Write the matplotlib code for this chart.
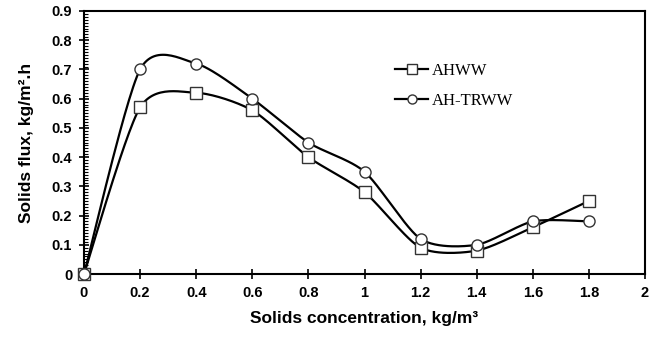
import numpy as np
import matplotlib
matplotlib.use("Agg")
import matplotlib.pyplot as plt
from matplotlib.ticker import MultipleLocator, FuncFormatter

conc = [0, 0.2, 0.4, 0.6, 0.8, 1.0, 1.2, 1.4, 1.6, 1.8]
ahww = [0, 0.57, 0.62, 0.56, 0.40, 0.28, 0.09, 0.08, 0.16, 0.25]
ahtrww = [0, 0.70, 0.72, 0.60, 0.45, 0.35, 0.12, 0.10, 0.18, 0.18]
x_ticks = [0, 0.2, 0.4, 0.6, 0.8, 1.0, 1.2, 1.4, 1.6, 1.8, 2.0]
y_ticks = [0, 0.1, 0.2, 0.3, 0.4, 0.5, 0.6, 0.7, 0.8, 0.9]


def smooth(x, y, n=30, t=0.38):
    # Excel-style smoothed line (cardinal spline through the points)
    x = np.asarray(x, float); y = np.asarray(y, float)
    px = np.concatenate([[x[0]], x, [x[-1]]])
    py = np.concatenate([[y[0]], y, [y[-1]]])
    xs, ys = [], []
    s = np.linspace(0, 1, n)
    for i in range(1, len(px) - 2):
        p0, p1, p2, p3 = (np.array([px[j], py[j]]) for j in (i - 1, i, i + 1, i + 2))
        c1 = p1 + (p2 - p0) * t / 3
        c2 = p2 - (p3 - p1) * t / 3
        b = ((1 - s) ** 3)[:, None] * p1 + (3 * (1 - s) ** 2 * s)[:, None] * c1 \
            + (3 * (1 - s) * s ** 2)[:, None] * c2 + (s ** 3)[:, None] * p2
        xs.extend(b[:, 0]); ys.extend(b[:, 1])
    return np.array(xs), np.array(ys)


fig = plt.figure(figsize=(6.5, 3.37), dpi=100)
ax = fig.add_axes([84 / 650, 1 - 274 / 337, (645 - 84) / 650, (274 - 11) / 337])

handles = []
for yv, mk, lab in [(ahww, "s", "AHWW"), (ahtrww, "o", "AH-TRWW")]:
    sx, sy = smooth(conc, yv)
    ax.plot(sx, sy, color="black", lw=1.6, zorder=2)
    ax.plot(conc, yv, linestyle="none", marker=mk, ms=8, mfc="white",
            mec="#333333", mew=1.0, zorder=3, clip_on=False)
    h, = ax.plot([], [], color="black", lw=1.6, marker=mk, ms=6.5, mfc="white",
                 mec="#333333", label=lab)
    handles.append(h)

ax.set_xlim(0, 2.0)
ax.set_ylim(0, 0.9)
ax.set_xticks(x_ticks)
ax.set_yticks(y_ticks)
fmt = FuncFormatter(lambda v, p: ("%g" % round(v, 2)))
ax.xaxis.set_major_formatter(fmt)
ax.yaxis.set_major_formatter(fmt)
ax.yaxis.set_minor_locator(MultipleLocator(0.01))
ax.tick_params(axis="x", which="major", direction="inout", length=7, width=1.2,
               labelsize=10.5, pad=5)
ax.tick_params(axis="y", which="major", direction="inout", length=7, width=1.2,
               labelsize=10.5, pad=5)
ax.tick_params(axis="y", which="minor", direction="in", length=3, width=0.8)
for lbl in ax.get_xticklabels() + ax.get_yticklabels():
    lbl.set_fontweight("bold")
    lbl.set_family("Liberation Sans")
for sp in ax.spines.values():
    sp.set_linewidth(1.5)

ax.set_xlabel("Solids concentration, kg/m\u00b3", fontsize=12.5, fontweight="bold",
              family="Liberation Sans", labelpad=8)
ax.set_ylabel("Solids flux, kg/m\u00b2.h", fontsize=12.5, fontweight="bold",
              family="Liberation Sans", labelpad=13)

leg = fig.legend(handles=handles, loc="center left",
                 bbox_to_anchor=(395 / 650, 1 - 86 / 337), frameon=False,
                 prop={"family": "Liberation Serif", "size": 12},
                 handlelength=2.0, labelspacing=0.85, handletextpad=0.2,
                 borderaxespad=0, borderpad=0)

fig.savefig("out.png", dpi=100)
